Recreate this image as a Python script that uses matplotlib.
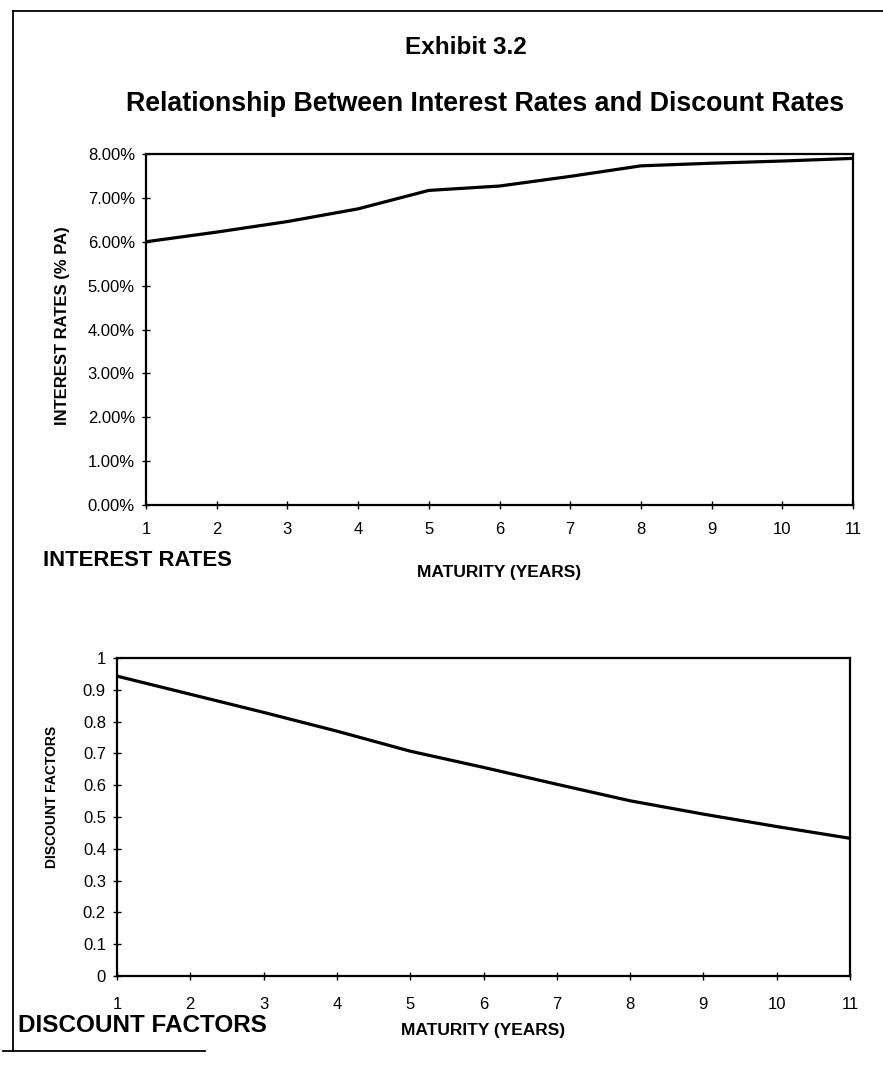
import matplotlib
matplotlib.use("Agg")
import matplotlib.pyplot as plt
from matplotlib.lines import Line2D
from matplotlib.ticker import FuncFormatter, MultipleLocator

plt.rcParams['font.family'] = ['Liberation Sans', 'DejaVu Sans']

# Maturity in years
maturity = [1, 2, 3, 4, 5, 6, 7, 8, 9, 10, 11]
# Zero interest rates (% p.a.)
interest_rates = [6.00, 6.22, 6.46, 6.75, 7.17, 7.27, 7.49, 7.73, 7.79, 7.84, 7.90]
# Corresponding discount factors
discount_factors = [0.943, 0.886, 0.829, 0.770, 0.707, 0.656, 0.603, 0.551, 0.509, 0.470, 0.433]

W, H = 883, 1065
fig = plt.figure(figsize=(W / 100, H / 100), dpi=100)
fig.patch.set_facecolor('white')


def fx(px):
    return px / W


def fy(py):
    return 1 - py / H


def axes_box(left, top, right, bottom):
    return [fx(left), fy(bottom), fx(right) - fx(left), fy(top) - fy(bottom)]


# Page frame
for xs, ys in [([13, 13], [11, 1051]), ([13, 883], [11, 11]), ([3, 205], [1051, 1051])]:
    fig.add_artist(Line2D([fx(v) for v in xs], [fy(v) for v in ys],
                          transform=fig.transFigure, color='black', lw=1.3))

fig.text(fx(466), fy(47), 'Exhibit 3.2', ha='center', va='center',
         fontsize=17.5, fontweight='bold')
fig.text(fx(485), fy(104), 'Relationship Between Interest Rates and Discount Rates',
         ha='center', va='center', fontsize=19.3, fontweight='bold')


def style_axes(ax):
    for sp in ax.spines.values():
        sp.set_linewidth(1.6)
        sp.set_color('black')
    ax.set_xlim(1, 11)
    ax.xaxis.set_major_locator(MultipleLocator(1))
    ax.tick_params(direction='inout', length=6, width=1, colors='black')


# Interest rate curve
ax1 = fig.add_axes(axes_box(146, 154, 853, 505))
ax1.plot(maturity, interest_rates, color='black', lw=2.3, solid_joinstyle='round')
style_axes(ax1)
ax1.set_ylim(0, 8)
ax1.yaxis.set_major_locator(MultipleLocator(1))
ax1.yaxis.set_major_formatter(FuncFormatter(lambda v, _: f'{v:.2f}%'))
ax1.tick_params(axis='y', labelsize=12, pad=5)
ax1.tick_params(axis='x', labelsize=12, pad=9)
fig.text(fx(63), fy(326), 'INTEREST RATES (% PA)', rotation=90, ha='center', va='center',
         fontsize=12, fontweight='bold')

fig.text(fx(43), fy(561), 'INTEREST RATES', ha='left', va='center',
         fontsize=15.9, fontweight='bold')
fig.text(fx(499), fy(573), 'MATURITY (YEARS)', ha='center', va='center',
         fontsize=12.5, fontweight='bold')

# Discount factor curve
ax2 = fig.add_axes(axes_box(117, 658, 850, 976))
ax2.plot(maturity, discount_factors, color='black', lw=2.3, solid_joinstyle='round')
style_axes(ax2)
ax2.set_ylim(0, 1)
ax2.yaxis.set_major_locator(MultipleLocator(0.1))
ax2.yaxis.set_major_formatter(FuncFormatter(lambda v, _: f'{v:.1f}'.rstrip('0').rstrip('.') if v else '0'))
ax2.tick_params(axis='y', labelsize=12, pad=5)
ax2.tick_params(axis='x', labelsize=12, pad=12)
fig.text(fx(52), fy(797), 'DISCOUNT FACTORS', rotation=90, ha='center', va='center',
         fontsize=10, fontweight='bold')

fig.text(fx(18), fy(1025), 'DISCOUNT FACTORS', ha='left', va='center',
         fontsize=17.5, fontweight='bold')
fig.text(fx(483), fy(1030), 'MATURITY (YEARS)', ha='center', va='center',
         fontsize=12.5, fontweight='bold')

fig.savefig('out.png', dpi=100, facecolor='white')
